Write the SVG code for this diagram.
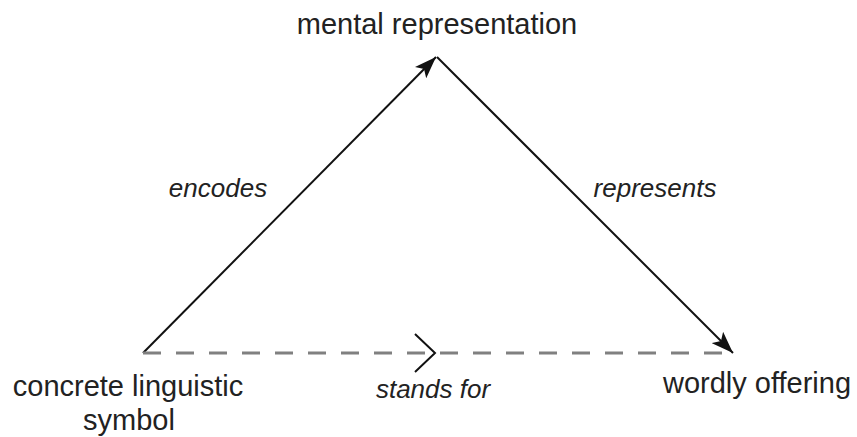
<svg xmlns="http://www.w3.org/2000/svg" width="857" height="437" viewBox="0 0 857 437">
<style>
.lbl{font-family:"Liberation Sans",Arial,sans-serif;font-size:29px;fill:#222;text-anchor:middle}
.it{font-family:"Liberation Sans",Arial,sans-serif;font-size:26px;font-style:italic;fill:#222;text-anchor:middle}
.solid{stroke:#111;stroke-width:2;fill:none}
.dash{stroke:#808080;stroke-width:3;stroke-dasharray:18 15;fill:none}
</style>
<defs>
<marker id="ah" markerUnits="userSpaceOnUse" markerWidth="24" markerHeight="16" refX="22" refY="8" orient="auto">
<path d="M0,0 L22,8 L0,16 L5,8 z" fill="#111"/>
</marker>
</defs>
<g id="connectors">
<line class="solid" x1="143" y1="353" x2="436" y2="57" marker-end="url(#ah)"/>
<line class="solid" x1="437" y1="57" x2="733" y2="353" marker-end="url(#ah)"/>
<line class="dash" x1="143" y1="353" x2="724" y2="353"/>
<polyline class="solid" points="415,334 435,353 415,372"/>
<text class="it" x="218" y="197">encodes</text>
<text class="it" x="655" y="197">represents</text>
<text class="it" x="433" y="398">stands for</text>
</g>
<g id="mental"><text class="lbl" x="437" y="34">mental representation</text></g>
<g id="symbol"><text class="lbl" x="128" y="396">concrete linguistic</text><text class="lbl" x="129" y="430">symbol</text></g>
<g id="offering"><text class="lbl" x="757" y="393">wordly offering</text></g>
</svg>
